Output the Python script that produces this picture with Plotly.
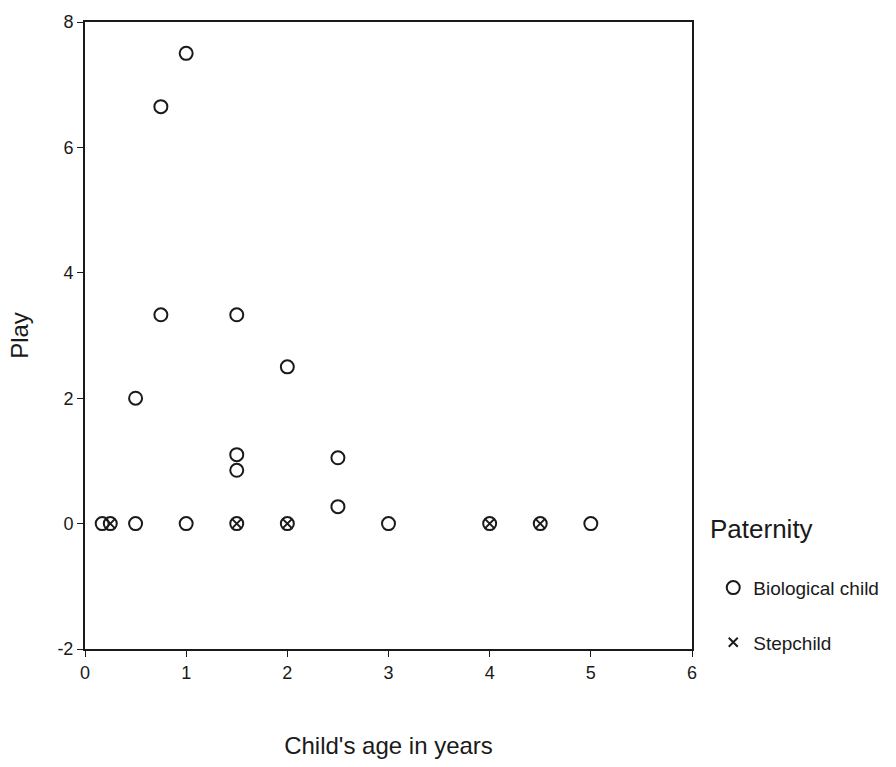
import plotly.graph_objects as go

bio_age = [0.17, 0.25, 0.5, 0.5, 0.75, 0.75, 1.0, 1.0, 1.5, 1.5, 1.5, 1.5, 2.0, 2.0, 2.5, 2.5, 3.0, 4.0, 4.5, 5.0]
bio_play = [0, 0, 0, 2.0, 6.65, 3.33, 7.5, 0, 3.33, 1.1, 0.85, 0, 2.5, 0, 1.05, 0.27, 0, 0, 0, 0]
step_age = [0.25, 1.5, 2.0, 4.0, 4.5]
step_play = [0, 0, 0, 0, 0]

FONT = "Liberation Sans, Arial, sans-serif"
INK = "#1a1a1a"

fig = go.Figure()
fig.add_trace(go.Scatter(
    x=bio_age, y=bio_play, mode="markers", name="Biological child",
    legendgroup="a",
    marker=dict(symbol="circle-open", size=13, color=INK, line=dict(width=2, color=INK)),
))
fig.add_trace(go.Scatter(
    x=step_age, y=step_play, mode="markers", name="Stepchild",
    legendgroup="b",
    marker=dict(symbol="x-thin-open", size=9, color=INK, line=dict(width=2, color=INK)),
))

fig.add_annotation(
    text="Paternity", xref="paper", yref="paper", x=1.027, y=0.191,
    xanchor="left", yanchor="middle", showarrow=False, font=dict(size=26, color=INK),
)

fig.update_layout(
    width=896, height=767,
    margin=dict(l=85, r=196, t=16, b=112),
    paper_bgcolor="white", plot_bgcolor="white",
    font=dict(family=FONT, color=INK),
    showlegend=True,
    legend=dict(
        font=dict(size=19),
        x=1.035, xanchor="left", y=0.128, yanchor="top",
        tracegroupgap=27,
        itemwidth=30,
        bgcolor="rgba(0,0,0,0)",
    ),
    xaxis=dict(
        range=[0, 6], tickvals=[0, 1, 2, 3, 4, 5, 6], ticks="outside", ticklen=6,
        tickcolor=INK, showline=True, linecolor=INK, linewidth=2, mirror=True,
        showgrid=False, zeroline=False, tickfont=dict(size=18),
        title=dict(text="Child's age in years", font=dict(size=24), standoff=56),
    ),
    yaxis=dict(
        range=[-2, 8], tickvals=[-2, 0, 2, 4, 6, 8], ticktext=["-2", "0", "2", "4", "6", "8"],
        ticks="outside", ticklen=6,
        tickcolor=INK, showline=True, linecolor=INK, linewidth=2, mirror=True,
        showgrid=False, zeroline=False, tickfont=dict(size=18),
        title=dict(text="Play", font=dict(size=24), standoff=22),
    ),
)

fig.write_html("out.html", config={"displayModeBar": False},
               post_script="document.body.style.margin='0';")
